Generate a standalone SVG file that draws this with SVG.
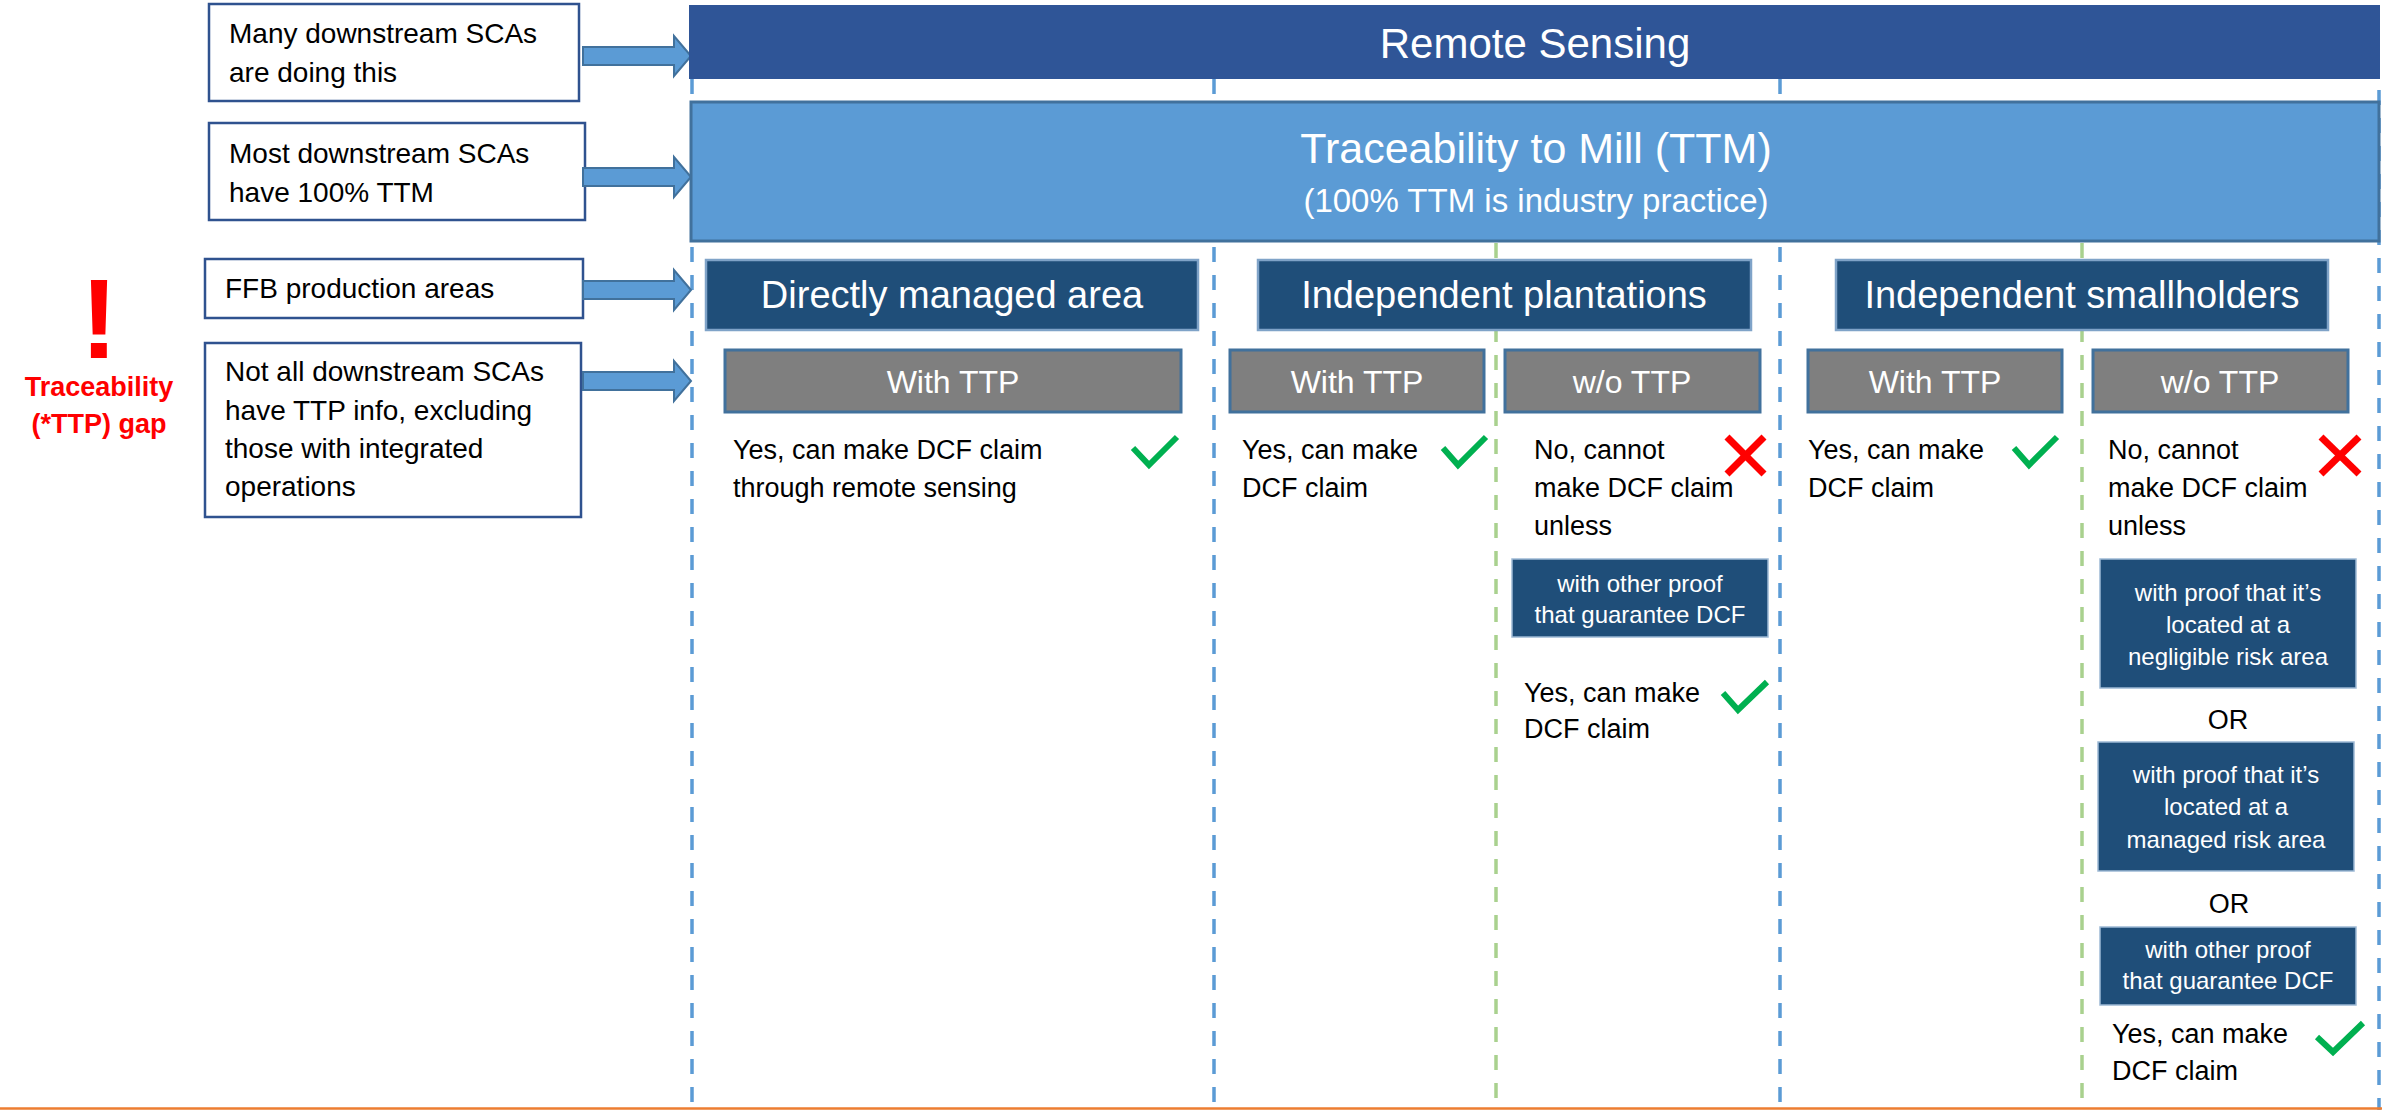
<svg xmlns="http://www.w3.org/2000/svg" width="2382" height="1110" viewBox="0 0 2382 1110">
<style>
text{font-family:"Liberation Sans",Arial,sans-serif}
.note{fill:#fff;stroke:#2F528F;stroke-width:2.5}
.nt{font-size:28px;fill:#000}
.div-b{stroke:#5B9BD5;stroke-width:3.5;stroke-dasharray:15 13;fill:none}
.div-g{stroke:#A9D18E;stroke-width:3.5;stroke-dasharray:15 13;fill:none}
.arr{fill:#5B9BD5;stroke:#41719C;stroke-width:2}
.cat{fill:#1F4E79;stroke:#7FA3C8;stroke-width:2.5}
.cattxt{font-size:38px;fill:#fff;text-anchor:middle}
.ttp{fill:#7F7F7F;stroke:#41719C;stroke-width:3}
.ttptxt{font-size:32px;fill:#fff;text-anchor:middle}
.body{font-size:27px;fill:#000}
.cond{fill:#1F4E79;stroke:#9DB9D5;stroke-width:1.5}
.condtxt{font-size:24px;fill:#fff;text-anchor:middle}
.ok{fill:none;stroke:#00B050;stroke-width:6}
.no{stroke:#FF0000;stroke-width:7}
.or{font-size:27px;fill:#000;text-anchor:middle}
</style>

<g id="dividers">
<line class="div-b" x1="692" y1="79" x2="692" y2="1110"/>
<line class="div-b" x1="1214" y1="79" x2="1214" y2="1110"/>
<line class="div-b" x1="1780" y1="79" x2="1780" y2="1110"/>
<line class="div-b" x1="2379" y1="90" x2="2379" y2="1110"/>
<line class="div-g" x1="1496" y1="243" x2="1496" y2="1100"/>
<line class="div-g" x1="2082" y1="243" x2="2082" y2="1100"/>
</g>

<line id="bottom-rule" x1="0" y1="1108.5" x2="2382" y2="1108.5" stroke="#ED7D31" stroke-width="2.5"/>

<g id="gap-marker">
<text x="99" y="358" font-size="113" font-weight="bold" fill="#FF0000" text-anchor="middle">!</text>
<text x="99" y="396" font-size="27" font-weight="bold" fill="#FF0000" text-anchor="middle">Traceability</text>
<text x="99" y="433" font-size="27" font-weight="bold" fill="#FF0000" text-anchor="middle">(*TTP) gap</text>
</g>

<g id="note-1">
<rect class="note" x="209" y="4" width="370" height="97"/>
<text class="nt" x="229" y="43">Many downstream SCAs</text>
<text class="nt" x="229" y="82">are doing this</text>
</g>
<g id="note-2">
<rect class="note" x="209" y="123" width="376" height="97"/>
<text class="nt" x="229" y="163">Most downstream SCAs</text>
<text class="nt" x="229" y="202">have 100% TTM</text>
</g>
<g id="note-3">
<rect class="note" x="205" y="259" width="378" height="59"/>
<text class="nt" x="225" y="298">FFB production areas</text>
</g>
<g id="note-4">
<rect class="note" x="205" y="343" width="376" height="174"/>
<text class="nt" x="225" y="381">Not all downstream SCAs</text>
<text class="nt" x="225" y="420">have TTP info, excluding</text>
<text class="nt" x="225" y="458">those with integrated</text>
<text class="nt" x="225" y="496">operations</text>
</g>

<g id="connectors">
<polygon class="arr" points="583,47 674,47 674,36 691,56 674,76 674,65 583,65"/>
<polygon class="arr" points="583,168 674,168 674,157 691,177 674,197 674,186 583,186"/>
<polygon class="arr" points="583,281 674,281 674,270 691,290 674,310 674,299 583,299"/>
<polygon class="arr" points="583,372 674,372 674,361 691,381 674,401 674,390 583,390"/>
</g>

<g id="remote-sensing">
<rect x="689" y="5" width="1691" height="74" fill="#2F5597"/>
<text x="1535" y="58" font-size="42" fill="#fff" text-anchor="middle">Remote Sensing</text>
</g>

<g id="ttm">
<rect x="691" y="102" width="1688" height="139" fill="#5B9BD5" stroke="#41719C" stroke-width="3"/>
<text x="1536" y="163" font-size="43" fill="#fff" text-anchor="middle">Traceability to Mill (TTM)</text>
<text x="1536" y="212" font-size="33" fill="#fff" text-anchor="middle">(100% TTM is industry practice)</text>
</g>

<g id="cat-direct">
<rect class="cat" x="706" y="260" width="492" height="70"/>
<text class="cattxt" x="952" y="308">Directly managed area</text>
</g>
<g id="cat-plantations">
<rect class="cat" x="1258" y="260" width="493" height="70"/>
<text class="cattxt" x="1504" y="308">Independent plantations</text>
</g>
<g id="cat-smallholders">
<rect class="cat" x="1836" y="260" width="492" height="70"/>
<text class="cattxt" x="2082" y="308">Independent smallholders</text>
</g>

<g id="direct-with-ttp">
<rect class="ttp" x="725" y="350" width="456" height="62"/>
<text class="ttptxt" x="953" y="393">With TTP</text>
<text class="body" x="733" y="459">Yes, can make DCF claim</text>
<text class="body" x="733" y="497">through remote sensing</text>
<polyline class="ok" points="1133,448 1149,465 1177,437"/>
</g>

<g id="plant-with-ttp">
<rect class="ttp" x="1230" y="350" width="254" height="62"/>
<text class="ttptxt" x="1357" y="393">With TTP</text>
<text class="body" x="1242" y="459">Yes, can make</text>
<text class="body" x="1242" y="497">DCF claim</text>
<polyline class="ok" points="1443,448 1458,465 1486,437"/>
</g>

<g id="plant-without-ttp">
<rect class="ttp" x="1505" y="350" width="255" height="62"/>
<text class="ttptxt" x="1632" y="393">w/o TTP</text>
<text class="body" x="1534" y="459">No, cannot</text>
<text class="body" x="1534" y="497">make DCF claim</text>
<text class="body" x="1534" y="535">unless</text>
<line class="no" x1="1727" y1="437" x2="1764" y2="474"/>
<line class="no" x1="1764" y1="437" x2="1727" y2="474"/>
<rect class="cond" x="1512" y="559" width="256" height="78"/>
<text class="condtxt" x="1640" y="592">with other proof</text>
<text class="condtxt" x="1640" y="623">that guarantee DCF</text>
<text class="body" x="1524" y="702">Yes, can make</text>
<text class="body" x="1524" y="738">DCF claim</text>
<polyline class="ok" points="1723,693 1738,710 1767,682"/>
</g>

<g id="small-with-ttp">
<rect class="ttp" x="1808" y="350" width="254" height="62"/>
<text class="ttptxt" x="1935" y="393">With TTP</text>
<text class="body" x="1808" y="459">Yes, can make</text>
<text class="body" x="1808" y="497">DCF claim</text>
<polyline class="ok" points="2014,448 2029,465 2057,437"/>
</g>

<g id="small-without-ttp">
<rect class="ttp" x="2093" y="350" width="255" height="62"/>
<text class="ttptxt" x="2220" y="393">w/o TTP</text>
<text class="body" x="2108" y="459">No, cannot</text>
<text class="body" x="2108" y="497">make DCF claim</text>
<text class="body" x="2108" y="535">unless</text>
<line class="no" x1="2321" y1="437" x2="2359" y2="474"/>
<line class="no" x1="2359" y1="437" x2="2321" y2="474"/>
<rect class="cond" x="2100" y="559" width="256" height="129"/>
<text class="condtxt" x="2228" y="601">with proof that it’s</text>
<text class="condtxt" x="2228" y="633">located at a</text>
<text class="condtxt" x="2228" y="665">negligible risk area</text>
<text class="or" x="2228" y="729">OR</text>
<rect class="cond" x="2098" y="742" width="256" height="129"/>
<text class="condtxt" x="2226" y="783">with proof that it’s</text>
<text class="condtxt" x="2226" y="815">located at a</text>
<text class="condtxt" x="2226" y="848">managed risk area</text>
<text class="or" x="2229" y="913">OR</text>
<rect class="cond" x="2100" y="927" width="256" height="78"/>
<text class="condtxt" x="2228" y="958">with other proof</text>
<text class="condtxt" x="2228" y="989">that guarantee DCF</text>
<text class="body" x="2112" y="1043">Yes, can make</text>
<text class="body" x="2112" y="1080">DCF claim</text>
<polyline class="ok" points="2317,1037 2333,1052 2363,1023"/>
</g>
</svg>
